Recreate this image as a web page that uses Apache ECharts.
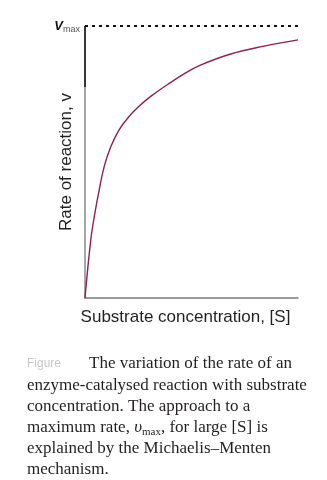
<!DOCTYPE html>
<html><head><meta charset="utf-8">
<script src="https://cdn.jsdelivr.net/npm/echarts@6/dist/echarts.min.js"></script>
<style>html,body{margin:0;padding:0;background:#fff}#c{width:327px;height:480px}</style>
</head><body><div id="c"></div>
<script>
// Substrate concentration (arbitrary units) and rate as fraction of v_max
var substrate = [0, 0.27, 0.46, 0.66, 0.90, 1.21, 1.60, 2.00, 2.47, 3.10, 3.88, 4.67, 5.42, 6.84, 8.41, 10];
var rate      = [0, 0.213, 0.31, 0.395, 0.483, 0.556, 0.618, 0.661, 0.700, 0.742, 0.785, 0.825, 0.856, 0.897, 0.926, 0.949];
var vmax = 1;
var xName = 'Substrate concentration, [S]';
var yName = 'Rate of reaction, v';
var captionLines = [
  'The variation of the rate of an',
  'enzyme-catalysed reaction with substrate',
  'concentration. The approach to a',
  'maximum rate, {i|υ}{s|max}, for large [S] is',
  'explained by the Michaelis\u2013Menten',
  'mechanism.'
];

var chart = echarts.init(document.getElementById('c'));
var pts = substrate.map(function(s, i){ return [s, rate[i]]; });
var serif = '"Liberation Serif", "DejaVu Serif", serif';
var sans = '"Liberation Sans", Arial, sans-serif';
var capColor = '#231f20';
var capTops = [355, 377, 398, 419, 440, 461];
var graphics = [
  {type: 'text', left: 27, top: 358, style: {text: 'Figure', fontFamily: sans, fontSize: 12, fill: '#c8c8c8'}}
];
captionLines.forEach(function(t, i){
  graphics.push({type: 'text', left: i === 0 ? 89 : 27, top: capTops[i], style: {
    text: t, fontFamily: serif, fontSize: 17, fill: capColor,
    rich: {i: {fontFamily: serif, fontStyle: 'italic', fontSize: 17, color: capColor},
           s: {fontFamily: serif, fontSize: 11, color: capColor, padding: [9, 0, 0, 0]}}
  }});
});

chart.setOption({
  animation: false,
  grid: {left: 85, top: 26, right: 29, bottom: 182, containLabel: false},
  xAxis: {
    type: 'value', min: 0, max: 10, interval: 10,
    axisLine: {show: true, lineStyle: {color: '#7a7a7a', width: 1.5}},
    axisTick: {show: false}, axisLabel: {show: false}, splitLine: {show: false},
    name: xName, nameLocation: 'middle', nameGap: 11,
    nameTextStyle: {fontFamily: sans, fontSize: 17, color: '#231f20', padding: [0, 12, 0, 0]}
  },
  yAxis: {
    type: 'value', min: 0, max: vmax, interval: vmax,
    axisLine: {show: true, lineStyle: {color: '#8a8a8a', width: 1.5}},
    axisTick: {show: false}, splitLine: {show: false}, axisLabel: {show: false},
    name: yName, nameLocation: 'middle', nameGap: 10,
    nameTextStyle: {fontFamily: sans, fontSize: 17, color: '#231f20'}
  },
  series: [{
    type: 'line', data: pts, smooth: 0.4, showSymbol: false,
    lineStyle: {color: '#8e2150', width: 1.4},
    markLine: {
      silent: true, symbol: 'none',
      data: [
        [{coord: [0, vmax], lineStyle: {color: '#111', width: 2, type: [3, 4]},
          label: {show: true, position: 'start', distance: 5, formatter: '{v|V}{m|max}',
            rich: {
              v: {fontFamily: sans, fontStyle: 'italic', fontWeight: 'bold', fontSize: 13, color: '#111'},
              m: {fontFamily: sans, fontSize: 9, color: '#555', padding: [8, 0, 0, 0]}
            }}},
         {coord: [10, vmax]}],
        [{coord: [0, vmax], lineStyle: {color: '#111', width: 1.5, type: 'solid'}, label: {show: false}}, {coord: [0, 0.776]}]
      ]
    }
  }],
  graphic: graphics
});
</script></body></html>
